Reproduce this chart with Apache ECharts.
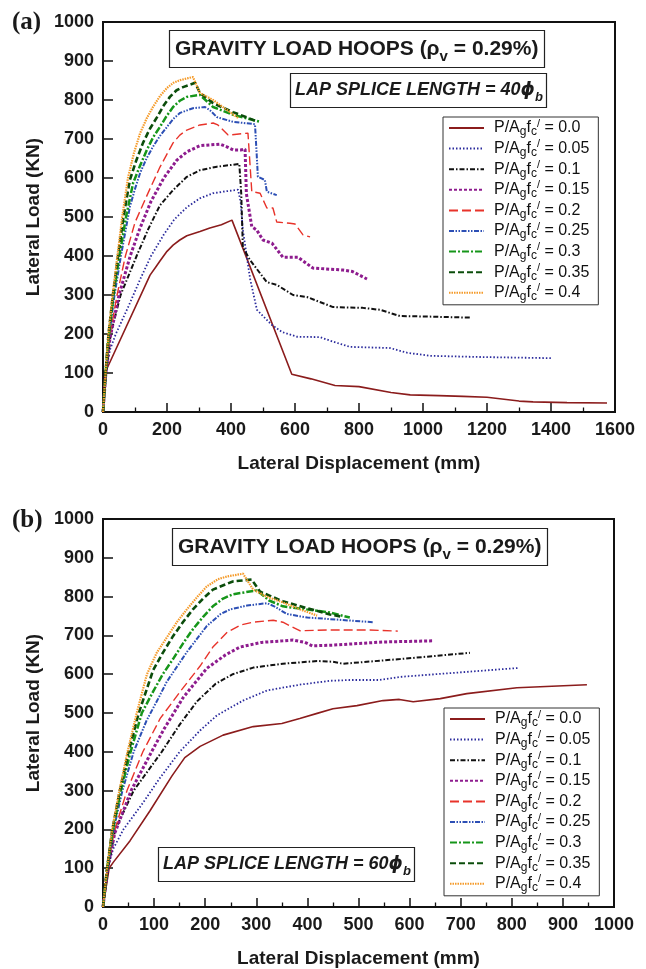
<!DOCTYPE html>
<html><head><meta charset="utf-8">
<script src="https://cdn.jsdelivr.net/npm/echarts@6/dist/echarts.min.js"></script>
<style>html,body{margin:0;padding:0;background:#fff}#c{width:646px;height:969px}</style>
</head><body><div id="c"></div>
<script>
// ---------- DATA ----------
const loadLevels = ['0.0','0.05','0.1','0.15','0.2','0.25','0.3','0.35','0.4'];
const yTicks = [0,100,200,300,400,500,600,700,800,900,1000];
const xTicksA = [0,200,400,600,800,1000,1200,1400,1600];
const xTicksB = [0,100,200,300,400,500,600,700,800,900,1000];

// (a) lap splice 40 db : [displacement mm, load kN]
const a00 = [[0,0],[6,100],[147,351],[165,372],[178,387],[200,412],[219,428],[240,441],[262,452],[303,463],[334,472],[370,480],[403,492],[590,97],[650,85],[725,68],[800,65],[900,50],[960,44],[1050,42],[1125,40],[1200,38],[1300,28],[1344,26],[1450,24],[1575,23]];
const a05 = [[0,0],[10,105],[22,160],[40,200],[78,268],[116,340],[150,400],[190,455],[223,494],[262,525],[303,548],[344,561],[385,566],[422,570],[430,540],[437,467],[460,340],[481,262],[528,223],[560,205],[606,193],[678,192],[720,180],[772,167],[897,164],[950,152],[1022,144],[1178,141],[1403,138]];
const a10 = [[0,0],[10,100],[24,200],[55,300],[105,400],[142,470],[178,530],[219,569],[262,603],[303,620],[356,629],[426,636],[432,560],[437,423],[459,390],[512,333],[543,326],[594,300],[637,295],[719,269],[812,267],[866,262],[928,246],[1000,245],[1147,242]];
const a15 = [[0,0],[9,100],[22,190],[50,300],[85,400],[115,470],[150,540],[190,600],[230,645],[262,667],[303,683],[352,686],[366,687],[387,680],[407,672],[430,672],[444,674],[448,560],[465,475],[480,467],[500,441],[528,433],[562,397],[609,397],[656,369],[750,364],[780,360],[825,341]];
const a20 = [[0,0],[9,100],[21,195],[44,300],[70,400],[100,486],[140,560],[178,628],[219,690],[240,710],[262,723],[303,736],[344,741],[359,736],[391,710],[453,715],[459,640],[465,565],[491,561],[512,523],[531,523],[543,487],[584,484],[600,482],[625,454],[647,449]];
const a25 = [[0,0],[9,100],[19,195],[36,300],[56,400],[84,526],[100,572],[116,613],[136,650],[156,680],[178,708],[200,731],[220,752],[241,767],[281,779],[319,782],[334,774],[356,756],[406,744],[475,738],[481,650],[484,603],[506,595],[512,565],[543,556]];
const a30 = [[0,0],[8,100],[18,196],[33,300],[51,400],[72,500],[94,587],[115,630],[137,672],[157,705],[178,731],[198,758],[219,782],[240,798],[262,808],[303,813],[344,782],[406,762],[491,744]];
const a35 = [[0,0],[8,100],[17,198],[31,300],[47,400],[64,500],[84,595],[104,645],[125,690],[147,727],[169,756],[189,785],[209,808],[230,825],[250,833],[288,844],[303,818],[344,792],[406,769],[469,749],[481,746]];
const a40 = [[0,0],[8,100],[17,200],[30,300],[45,400],[60,500],[78,600],[97,665],[116,715],[136,752],[156,782],[178,810],[200,831],[220,844],[241,851],[281,859],[303,818],[344,800],[422,754]];

// (b) lap splice 60 db
const b00 = [[0,0],[12,100],[20,115],[53,171],[92,248],[135,338],[160,385],[190,414],[235,443],[294,465],[350,473],[385,486],[419,499],[450,511],[497,519],[548,532],[580,535],[607,529],[660,537],[712,550],[810,565],[947,573]];
const b05 = [[0,0],[10,105],[20,150],[40,200],[78,268],[110,330],[150,400],[190,455],[223,494],[274,532],[321,558],[385,573],[444,583],[483,585],[540,585],[581,593],[712,606],[812,616]];
const b10 = [[0,0],[10,100],[24,200],[60,300],[115,400],[150,470],[184,530],[220,575],[254,600],[294,617],[352,627],[419,634],[450,632],[470,627],[581,639],[718,655]];
const b15 = [[0,0],[9,100],[23,190],[55,300],[95,400],[120,460],[157,540],[203,615],[240,650],[268,670],[310,682],[352,686],[372,688],[395,682],[410,673],[450,675],[548,683],[644,686]];
const b20 = [[0,0],[9,100],[22,195],[47,300],[78,400],[112,486],[151,555],[190,621],[215,670],[243,708],[270,727],[294,734],[333,739],[352,734],[385,712],[444,714],[520,714],[577,711]];
const b25 = [[0,0],[9,100],[20,195],[38,300],[60,400],[85,480],[108,537],[125,581],[164,657],[203,724],[230,755],[249,767],[282,777],[321,783],[335,775],[360,755],[400,746],[444,742],[528,734]];
const b30 = [[0,0],[8,100],[19,196],[35,300],[54,400],[76,500],[98,555],[117,600],[137,639],[157,680],[176,716],[196,748],[215,775],[235,795],[254,806],[301,816],[325,790],[352,775],[444,759],[483,746]];
const b35 = [[0,0],[8,100],[18,198],[33,300],[50,400],[70,500],[98,610],[117,655],[137,698],[157,735],[176,767],[196,795],[215,818],[254,839],[291,844],[307,813],[352,788],[400,770],[444,754],[464,749]];
const b40 = [[0,0],[8,100],[18,200],[32,300],[48,400],[66,500],[86,600],[105,655],[125,695],[145,735],[164,767],[185,800],[203,826],[225,845],[243,852],[274,859],[294,818],[320,800],[352,785],[390,765],[419,751]];

const seriesA = [a00,a05,a10,a15,a20,a25,a30,a35,a40];
const seriesB = [b00,b05,b10,b15,b20,b25,b30,b35,b40];

// ---------- STYLE ----------
const SANS = '"Liberation Sans", Arial, Helvetica, sans-serif';
const SERIF = '"Liberation Serif", "Times New Roman", serif';
const lineStyles = [
  {color:'#8b1c1c', width:1.6, type:'solid'},
  {color:'#2a2a9c', width:1.8, type:[1.5,2]},
  {color:'#111111', width:2, type:[5,2,1.5,2]},
  {color:'#8e1c8e', width:3, type:[3,2]},
  {color:'#e8332a', width:1.4, type:[9,4]},
  {color:'#2c4fb5', width:2, type:[5,1.5,1.5,1.5,1.5,1.5]},
  {color:'#16961a', width:2.5, type:[7,2,2,2]},
  {color:'#0b4d0b', width:2.6, type:[6,3]},
  {color:'#f59b2a', width:2.2, type:[1.5,1]}
];

const gridA = {left:103, top:22, width:512, height:390};
const gridB = {left:103, top:519, width:511, height:391};

function xAxisCfg(gi, ticks){
  return {
    type:'value', gridIndex:gi, min:ticks[0], max:ticks[ticks.length-1], interval:ticks[1]-ticks[0],
    name:'Lateral Displacement (mm)', nameLocation:'middle', nameGap:42,
    nameTextStyle:{fontFamily:SANS, fontWeight:'bold', fontSize:19, color:'#1a1a1a'},
    axisLine:{show:true, lineStyle:{color:'#111', width:2}},
    axisTick:{show:true, inside:true, length:9, lineStyle:{color:'#111', width:1.5}},
    minorTick:{show:true, splitNumber:2, length:4.5, lineStyle:{color:'#111', width:1.3}},
    splitLine:{show:false},
    axisLabel:{margin:9, fontFamily:SANS, fontWeight:'bold', fontSize:18, color:'#1a1a1a', formatter:v => String(v)}
  };
}
function yAxisCfg(gi){
  return {
    type:'value', gridIndex:gi, min:yTicks[0], max:yTicks[yTicks.length-1], interval:yTicks[1]-yTicks[0],
    name:'Lateral Load (KN)', nameLocation:'middle', nameGap:52,
    nameTextStyle:{fontFamily:SANS, fontWeight:'bold', fontSize:19, color:'#1a1a1a'},
    axisLine:{show:true, lineStyle:{color:'#111', width:2}},
    axisTick:{show:true, inside:true, length:10, lineStyle:{color:'#111', width:1.5}},
    splitLine:{show:false},
    axisLabel:{margin:9, fontFamily:SANS, fontWeight:'bold', fontSize:18, color:'#1a1a1a', formatter:v => String(v)}
  };
}

function legendCfg(left, top){
  return {
    orient:'vertical', left:left, top:top, data:loadLevels,
    itemWidth:35, itemHeight:10, itemGap:0.6,
    padding:[1,9,2,5], borderColor:'#333', borderWidth:1, backgroundColor:'#fff',
    selectedMode:false,
    itemStyle:{opacity:0, borderWidth:0},
    formatter: n => 'P/A{sub|g}f{sub|c}{sup|/} = ' + n,
    textStyle:{fontFamily:SANS, fontSize:16, color:'#111', lineHeight:20, padding:[0,0,0,5],
      rich:{
        sub:{fontFamily:SANS, fontSize:12, lineHeight:10, verticalAlign:'bottom', color:'#111'},
        sup:{fontFamily:SANS, fontSize:11, lineHeight:10, verticalAlign:'top', color:'#111'}
      }}
  };
}

function titleBox(text, left, top, opts){
  return Object.assign({
    text:text, left:left, top:top, borderColor:'#222', borderWidth:1.2, backgroundColor:'#fff'
  }, opts);
}

const mainTitleStyle = {fontFamily:SANS, fontWeight:'bold', fontSize:21, color:'#1a1a1a', lineHeight:30,
  rich:{sub:{fontFamily:SANS, fontWeight:'bold', fontSize:15, lineHeight:14, verticalAlign:'bottom', color:'#1a1a1a'}}};
const lapStyle = {fontFamily:SANS, fontWeight:'bold', fontStyle:'italic', fontSize:18, color:'#1a1a1a', lineHeight:27,
  rich:{phi:{fontFamily:'"DejaVu Sans", '+SANS, fontWeight:'bold', fontStyle:'italic', fontSize:18, color:'#1a1a1a'},
        sub:{fontFamily:SANS, fontWeight:'bold', fontStyle:'italic', fontSize:13, lineHeight:12, verticalAlign:'bottom', color:'#1a1a1a'}}};

const series = [];
[seriesA, seriesB].forEach((set, gi) => {
  set.forEach((d, i) => {
    const s = lineStyles[i];
    series.push({
      type:'line', name:loadLevels[i], xAxisIndex:gi, yAxisIndex:gi, data:d,
      symbol:'none', showSymbol:false, smooth:false, animation:false,
      lineStyle:{color:s.color, width:s.width, type:s.type},
      itemStyle:{color:s.color}
    });
  });
});

const chart = echarts.init(document.getElementById('c'), null, {renderer:'canvas'});
chart.setOption({
  backgroundColor:'#fff',
  animation:false,
  title:[
    {text:'(a)', left:12, top:10, padding:0, textStyle:{fontFamily:SERIF, fontWeight:'bold', fontSize:25, color:'#1a1a1a'}},
    titleBox('GRAVITY LOAD HOOPS (\u03c1{sub|v} = 0.29%)', 169, 30, {padding:[4,6,4,6], textStyle:mainTitleStyle}),
    titleBox('LAP SPLICE LENGTH = 40{phi|\u03d5}{sub|b}', 290, 73, {padding:[4,4,4,5], textStyle:lapStyle}),
    {text:'(b)', left:12, top:508, padding:0, textStyle:{fontFamily:SERIF, fontWeight:'bold', fontSize:25, color:'#1a1a1a'}},
    titleBox('GRAVITY LOAD HOOPS (\u03c1{sub|v} = 0.29%)', 172, 528, {padding:[4,6,4,6], textStyle:mainTitleStyle}),
    titleBox('LAP SPLICE LENGTH = 60{phi|\u03d5}{sub|b}', 158, 847, {padding:[4,4,4,5], textStyle:lapStyle})
  ],
  grid:[
    Object.assign({show:true, borderColor:'#111', borderWidth:2, backgroundColor:'transparent'}, gridA),
    Object.assign({show:true, borderColor:'#111', borderWidth:2, backgroundColor:'transparent'}, gridB)
  ],
  xAxis:[xAxisCfg(0, xTicksA), xAxisCfg(1, xTicksB)],
  yAxis:[yAxisCfg(0), yAxisCfg(1)],
  legend:[legendCfg(443, 117), legendCfg(444, 708)],
  series:series
});
</script></body></html>
